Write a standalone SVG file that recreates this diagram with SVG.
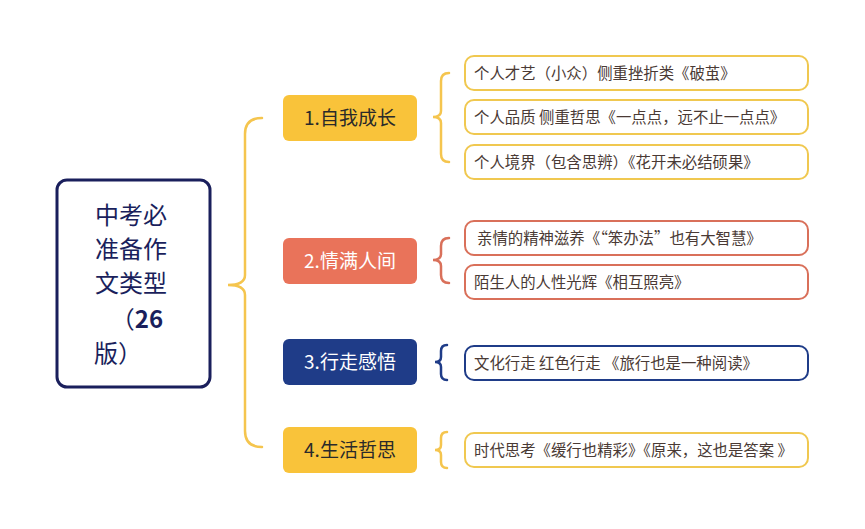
<svg xmlns="http://www.w3.org/2000/svg" width="865" height="529" viewBox="0 0 865 529">
<style>
text{font-family:"Noto Sans CJK SC","Noto Sans",sans-serif}
.leaf{fill:#fff;stroke-width:2}
.lt{font-size:15.4px;fill:#4a3a35}
.bt{font-size:19px}
.br{fill:none;stroke-width:2.5;stroke-linecap:round}
</style>
<rect width="865" height="529" fill="#fff"/>
<g id="connectors">
<path class="br" stroke="#f5c54e" d="M262,118 Q245,118 245,134 L245,275 Q245,285 228,285 Q245,285 245,295 L245,431 Q245,447 262,447"/>
<path class="br" stroke="#f5c54e" d="M449,73 Q441,73 441,81 L441,111 Q441,117 433,117 Q441,117 441,123 L441,154 Q441,162 449,162"/>
<path class="br" stroke="#d9705a" d="M449,238 Q441,238 441,246 L441,254 Q441,260 433,260 Q441,260 441,266 L441,275 Q441,283 449,283"/>
<path class="br" stroke="#1f3c88" d="M447,345 Q441,345 441,351 L441,357 Q441,362 435,362 Q441,362 441,367 L441,374 Q441,380 447,380"/>
<path class="br" stroke="#f5c54e" d="M447,432 Q441,432 441,438 L441,445 Q441,450 435,450 Q441,450 441,455 L441,462 Q441,468 447,468"/>
</g>
<g id="root">
<rect x="57" y="180" width="153" height="207" rx="10" fill="#fff" stroke="#1a1f5c" stroke-width="3"/>
<text font-size="24" fill="#1a1f5c" text-anchor="middle"><tspan x="131" y="224">中考必</tspan><tspan x="131" y="258">准备作</tspan><tspan x="131" y="292">文类型</tspan><tspan x="137" y="328">（<tspan font-weight="bold">26</tspan></tspan><tspan x="118" y="362">版）</tspan></text>
</g>
<g id="n1"><rect x="283" y="95" width="134" height="46" rx="6" fill="#f9c33a"/><text class="bt" x="350" y="125" text-anchor="middle" fill="#2a2a2a">1.自我成长</text></g>
<g id="n2"><rect x="283" y="238" width="134" height="46" rx="6" fill="#e9735a"/><text class="bt" x="350" y="268" text-anchor="middle" fill="#fff">2.情满人间</text></g>
<g id="n3"><rect x="283" y="339" width="134" height="46" rx="6" fill="#1f3c88"/><text class="bt" x="350" y="369" text-anchor="middle" fill="#fff">3.行走感悟</text></g>
<g id="n4"><rect x="283" y="427" width="134" height="46" rx="6" fill="#f9c33a"/><text class="bt" x="350" y="457" text-anchor="middle" fill="#2a2a2a">4.生活哲思</text></g>
<g id="l1"><rect class="leaf" x="465" y="56" width="343" height="34" rx="9" stroke="#f0c850"/><text class="lt" x="474" y="79">个人才艺（小众）侧重挫折类《破茧》</text></g>
<g id="l2"><rect class="leaf" x="465" y="100" width="343" height="34" rx="9" stroke="#f0c850"/><text class="lt" x="474" y="123">个人品质 侧重哲思《一点点，远不止一点点》</text></g>
<g id="l3"><rect class="leaf" x="465" y="145" width="343" height="34" rx="9" stroke="#f0c850"/><text class="lt" x="474" y="168">个人境界（包含思辨）《花开未必结硕果》</text></g>
<g id="l4"><rect class="leaf" x="465" y="221" width="343" height="34" rx="9" stroke="#d9705a"/><text class="lt" x="477" y="244">亲情的精神滋养《“笨办法”也有大智慧》</text></g>
<g id="l5"><rect class="leaf" x="465" y="265" width="343" height="34" rx="9" stroke="#d9705a"/><text class="lt" x="474" y="288">陌生人的人性光辉《相互照亮》</text></g>
<g id="l6"><rect class="leaf" x="465" y="346" width="343" height="34" rx="9" stroke="#1f3c88"/><text class="lt" x="474" y="369">文化行走 红色行走 《旅行也是一种阅读》</text></g>
<g id="l7"><rect class="leaf" x="465" y="433" width="343" height="34" rx="9" stroke="#f0c850"/><text class="lt" x="474" y="456">时代思考《缓行也精彩》《原来，这也是答案 》</text></g>
</svg>
